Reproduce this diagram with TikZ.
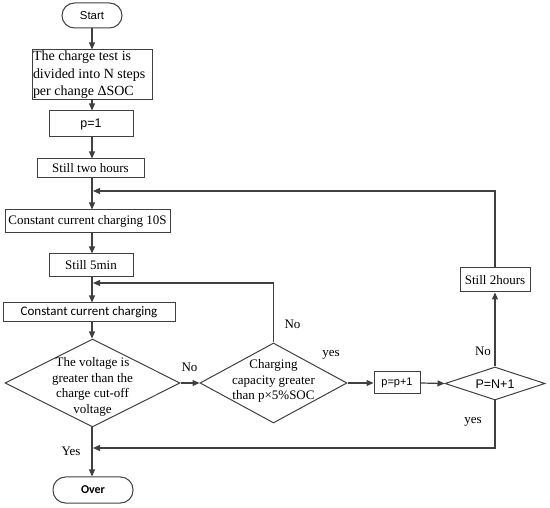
\documentclass[tikz,border=0pt]{standalone}
\usepackage{fontspec}
\setmainfont{Liberation Serif}
\newfontfamily\arialf{Liberation Sans}
\newfontfamily\calf{Carlito}
\usetikzlibrary{shapes.geometric,arrows.meta}
\definecolor{ln}{HTML}{404040}
\begin{document}
\begin{tikzpicture}[x=1pt,y=-1pt,
  base/.style={draw=ln, line width=1pt, inner sep=0pt, text=black},
  rbox/.style={base, rectangle},
  term/.style={base, rectangle, rounded corners=12.5pt},
  dia/.style={base, diamond},
  conn/.style={draw=ln, line width=1.2pt, -{Triangle[length=7pt,width=6pt]}},
  plain/.style={draw=ln, line width=1.2pt},
  ser/.style={font=\fontsize{13}{15.7}\selectfont},
  lab/.style={font=\fontsize{13}{15}\selectfont, inner sep=0pt},
  dtext/.style={align=center, inner sep=0pt},
]
\useasboundingbox (0,0) rectangle (550,508);
\coordinate (sp) at (92,0);
\node[term, minimum width=60pt, minimum height=25pt, font=\arialf\fontsize{11.4}{13}\selectfont] (start) at (92,15.5) {Start};
\node[rbox, text width=118pt, inner sep=1pt, minimum height=50pt, align=flush left, font=\fontsize{14}{17.5}\selectfont] (b1) at (92,75) {The charge test is\\divided into N steps\\per change ΔSOC};
\node[rbox, minimum width=84pt, minimum height=26pt, font=\arialf\fontsize{12.5}{14}\selectfont] (p1) at (91,124) {p=1};
\node[rbox, ser, minimum width=107pt, minimum height=19pt] (s2h) at (90.5,168.5) {Still two hours};
\node[rbox, ser, minimum width=165pt, minimum height=23pt] (cc10) at (87.5,221.5) {Constant current charging 10S};
\node[rbox, ser, minimum width=84pt, minimum height=23pt] (s5) at (91,265.5) {Still 5min};
\node[rbox, minimum width=172pt, minimum height=19pt, font=\calf\fontsize{13}{15}\selectfont] (ccc) at (89,312.5) {Constant current charging};
\node[dia, minimum width=175pt, minimum height=88pt] (d1) at (92.5,383) {};
\node[dtext, ser] (d1t) at (92.5,387) {The voltage is\\greater than the\\charge cut-off\\voltage};
\node[dia, minimum width=147pt, minimum height=80pt] (d2) at (273.5,383) {};
\node[dtext, ser] (d2t) at (273.5,381) {Charging\\capacity greater\\than p×5\%SOC};
\node[rbox, minimum width=46pt, minimum height=22pt, font=\arialf\fontsize{11}{13}\selectfont] (pp1) at (397,383) {p=p+1};
\node[dia, minimum width=100pt, minimum height=33pt] (d3) at (495,383.5) {};
\node[dtext, font=\arialf\fontsize{12.5}{14}\selectfont] (d3t) at (495,384) {P=N+1};
\node[rbox, ser, minimum width=70pt, minimum height=24pt] (s2h2) at (495,280) {Still 2hours};
\node[term, minimum width=80pt, minimum height=26pt, font=\calf\bfseries\fontsize{12}{14}\selectfont] (over) at (93,490) {Over};
\coordinate (j1) at (92,191);
\coordinate (j2) at (92,283);
\coordinate (j3) at (92,448);
\draw[conn] (start.south -| sp) -- (b1.north -| sp);
\draw[conn] (b1.south -| sp) -- (p1.north -| sp);
\draw[conn] (p1.south -| sp) -- (s2h.north -| sp);
\draw[conn] (s2h.south -| sp) -- (cc10.north -| sp);
\draw[conn] (cc10.south -| sp) -- (s5.north -| sp);
\draw[conn] (s5.south -| sp) -- (ccc.north -| sp);
\draw[conn] (ccc.south -| sp) -- (d1.north -| sp);
\draw[conn] (d1.south -| sp) -- (over.north -| sp);
\draw[conn] (d1.east) -- (d2.west);
\draw[conn] (d2.east) -- (pp1.west);
\draw[conn] (pp1.east) -- (d3.west);
\draw[conn] (d3.north) -- (s2h2.south);
\draw[conn, shorten >=1pt] (s2h2.north) |- (j1);
\draw[conn, shorten >=1pt] (d2.north) |- (j2);
\draw[conn, shorten >=1pt] (d3.south) |- (j3);
\node[lab] (l1) at (189.5,367) {No};
\node[lab] (l2) at (292.5,324) {No};
\node[lab] (l3) at (331,355) {yes};
\node[lab] (l4) at (483,351) {No};
\node[lab] (l5) at (473,422) {yes};
\node[lab] (l6) at (71,451) {Yes};
\end{tikzpicture}
\end{document}
